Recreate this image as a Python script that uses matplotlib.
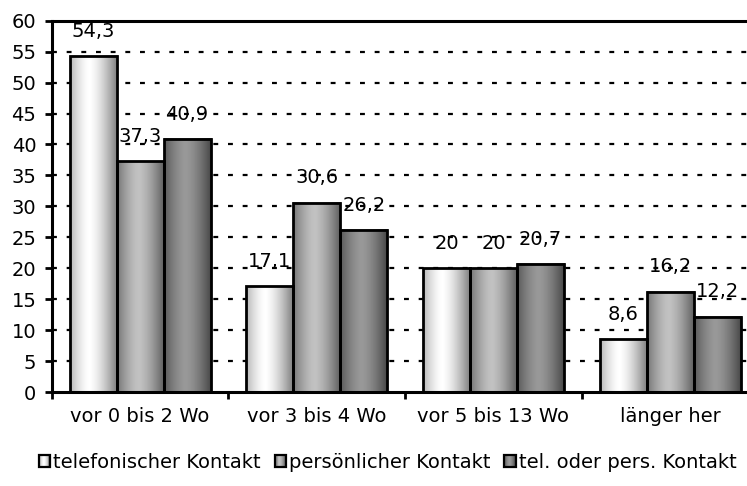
import numpy as np
import matplotlib
matplotlib.use("Agg")
import matplotlib.pyplot as plt
from matplotlib.patches import Rectangle, Patch
from matplotlib.legend_handler import HandlerBase

plt.rcParams['font.family'] = ['DejaVu Sans']
FS = 14

categories = ["vor 0 bis 2 Wo", "vor 3 bis 4 Wo", "vor 5 bis 13 Wo", "länger her"]
telefonisch = [54.3, 17.1, 20, 8.6]
persoenlich = [37.3, 30.6, 20, 16.2]
tel_oder_pers = [40.9, 26.2, 20.7, 12.2]
series_names = ["telefonischer Kontakt", "persönlicher Kontakt", "tel. oder pers. Kontakt"]
yticks = list(range(0, 61, 5))

# (hell in der Mitte, dunkel am Rand, Lage des Glanzpunkts)
profiles = [(1.0, 0.48, 0.40), (0.76, 0.36, 0.45), (0.60, 0.27, 0.45)]


def shade(prof, n=64):
    hi, lo, c = prof
    t = np.linspace(0, 1, n)
    d = np.abs(t - c) / max(c, 1 - c)
    return hi - (hi - lo) * d ** 1.5


def fmt(v):
    s = ("%.1f" % v).rstrip("0").rstrip(".")
    return s.replace(".", ",")


class GradHandler(HandlerBase):
    def __init__(self, prof):
        super().__init__()
        self.prof = prof

    def create_artists(self, legend, orig_handle, xdescent, ydescent,
                       width, height, fontsize, trans):
        n = 12
        vals = shade(self.prof, n)
        out = []
        for i, v in enumerate(vals):
            r = Rectangle((-xdescent + width * i / n, -ydescent), width / n, height,
                          facecolor=str(v), edgecolor='none', transform=trans)
            out.append(r)
        out.append(Rectangle((-xdescent, -ydescent), width, height, facecolor='none',
                             edgecolor='black', linewidth=1.6, transform=trans))
        return out


fig = plt.figure(figsize=(7.47, 4.86), dpi=100)
ax = fig.add_axes([51.7 / 747, 94 / 486, (758.5 - 51.7) / 747, (392 - 20.7) / 486])

x = np.arange(len(categories))
w = 0.266
all_series = [telefonisch, persoenlich, tel_oder_pers]

for k, vals in enumerate(all_series):
    pos = x + (k - 1) * w
    bars = ax.bar(pos, vals, width=w, facecolor='none', edgecolor='black',
                  linewidth=2.0, zorder=3)
    grad = shade(profiles[k])[None, :]
    for b, v in zip(bars, vals):
        x0 = b.get_x()
        ax.imshow(grad, cmap='gray', vmin=0, vmax=1, aspect='auto',
                  extent=(x0, x0 + w, 0, v), zorder=2, interpolation='bilinear')
        ax.annotate(fmt(v), (x0 + w / 2, v), xytext=(0, 11), textcoords='offset points',
                    ha='center', va='bottom', fontsize=FS, zorder=1)

ax.set_xlim(-0.5, len(categories) - 0.5)
ax.set_ylim(0, 60)

for yv in yticks[1:-1]:
    ax.axhline(yv, color='black', linewidth=1.6, linestyle=(0, (2.2, 4.4)), zorder=0)

ax.set_yticks(yticks)
ax.set_yticklabels([str(v) for v in yticks], fontsize=FS)
ax.set_xticks(np.arange(len(categories) + 1) - 0.5)
ax.set_xticklabels([])
ax.set_xticks(x, minor=True)
ax.set_xticklabels(categories, minor=True, fontsize=FS)
ax.tick_params(axis='x', which='minor', length=0, pad=11)
ax.tick_params(axis='x', which='major', direction='out', length=5, width=2)
ax.tick_params(axis='y', direction='out', length=5, width=2, pad=6)

for side in ['left', 'bottom', 'top']:
    ax.spines[side].set_linewidth(2.2)
ax.spines['right'].set_visible(False)

proxies = [Patch(label=n) for n in series_names]
fig.legend(handles=proxies, loc='center', bbox_to_anchor=(0.519, 0.049), ncol=3,
           frameon=False, fontsize=FS, handlelength=0.6, handleheight=0.6,
           handletextpad=0.15, columnspacing=0.7,
           handler_map={p: GradHandler(pr) for p, pr in zip(proxies, profiles)})

fig.savefig("out.png", dpi=100)
